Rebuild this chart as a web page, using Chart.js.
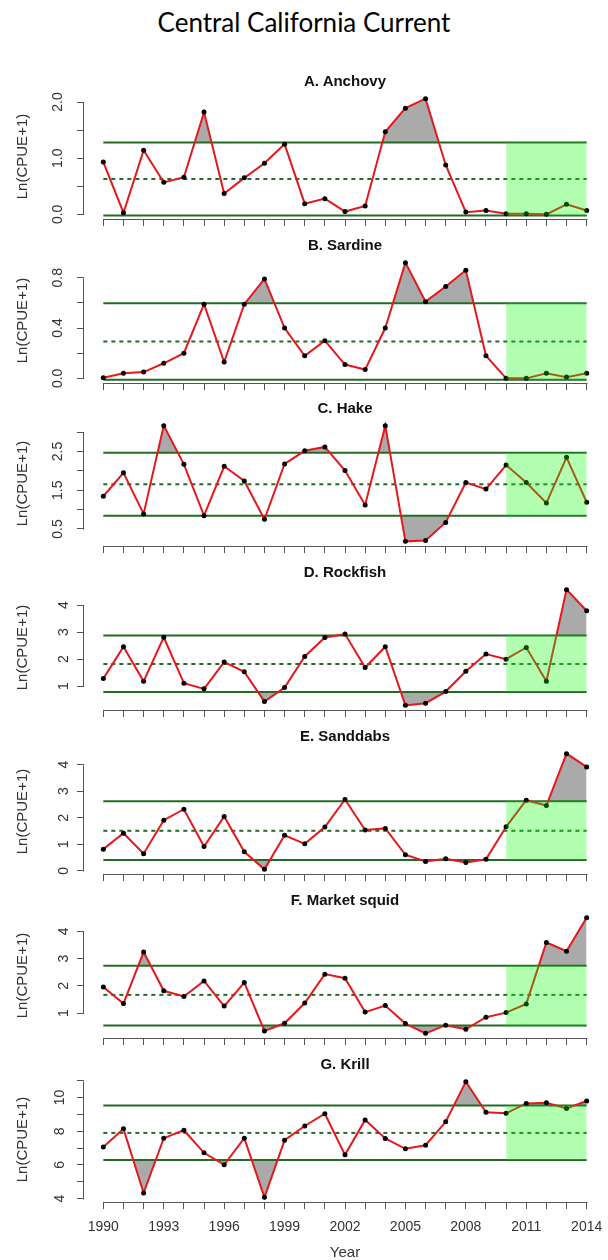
<!DOCTYPE html>
<html><head><meta charset="utf-8">
<script src="https://cdn.jsdelivr.net/npm/chart.js@4.4.1/dist/chart.umd.min.js"></script>
<style>
html,body{margin:0;padding:0;background:#fff;width:608px;height:1260px;overflow:hidden;position:relative;}
#main{position:absolute;left:0;top:4px;width:608px;text-align:center;font-family:Lato,'Open Sans',sans-serif;font-size:26px;line-height:36px;color:#000;}
.pt{position:absolute;left:84px;width:522px;text-align:center;font:bold 15px 'Liberation Sans',Arial,sans-serif;line-height:18px;color:#111;}
canvas{position:absolute;left:0;}
</style></head><body>
<div id="main">Central California Current</div>
<script>
// ---------- data ----------
const years = [1990,1991,1992,1993,1994,1995,1996,1997,1998,1999,2000,2001,2002,2003,2004,2005,2006,2007,2008,2009,2010,2011,2012,2013,2014];
const xTickLabels = ['1990','1993','1996','1999','2002','2005','2008','2011','2014'];
const shadeStart = 2010, shadeEnd = 2014;

const panelTitles = ['A. Anchovy','B. Sardine','C. Hake','D. Rockfish','E. Sanddabs','F. Market squid','G. Krill'];

const anchovy  = [0.93,0.03,1.14,0.57,0.66,1.82,0.37,0.65,0.91,1.25,0.19,0.28,0.05,0.15,1.47,1.89,2.06,0.88,0.04,0.07,0.01,0.01,0.00,0.18,0.07];
const sardine  = [0.005,0.04,0.05,0.12,0.20,0.59,0.13,0.59,0.79,0.40,0.18,0.30,0.11,0.07,0.40,0.92,0.61,0.73,0.86,0.18,0.00,0.00,0.04,0.01,0.04];
const hake     = [1.345,1.95,0.89,3.17,2.17,0.845,2.12,1.74,0.75,2.18,2.52,2.62,2.01,1.12,3.17,0.18,0.20,0.67,1.70,1.53,2.15,1.70,1.17,2.35,1.19];
const rockfish = [1.28,2.46,1.18,2.81,1.11,0.90,1.89,1.53,0.43,0.95,2.10,2.80,2.93,1.69,2.46,0.29,0.37,0.80,1.55,2.19,2.00,2.43,1.18,4.57,3.79];
const sanddabs = [0.82,1.42,0.65,1.91,2.32,0.92,2.05,0.72,0.06,1.34,1.02,1.65,2.69,1.54,1.60,0.61,0.36,0.46,0.32,0.44,1.66,2.66,2.46,4.41,3.91];
const squid    = [1.96,1.35,3.24,1.82,1.61,2.18,1.26,2.12,0.35,0.63,1.37,2.43,2.28,1.04,1.28,0.62,0.26,0.56,0.41,0.85,1.02,1.34,3.59,3.27,4.50];
const krill    = [7.06,8.14,4.34,7.59,8.06,6.72,6.01,7.59,4.08,7.47,8.31,9.04,6.60,8.67,7.57,6.96,7.17,8.56,10.94,9.12,9.06,9.65,9.69,9.35,9.79];

const meanLine  = [0.63, 0.293, 1.655, 1.82, 1.51, 1.67, 7.90];
const upperLine = [1.28, 0.597, 2.47, 2.87, 2.62, 2.74, 9.53];
const lowerLine = [-0.02, -0.01, 0.84, 0.78, 0.41, 0.55, 6.30];

const yTicksA = [0,0.5,1,1.5,2],       yLabelsA = ['0.0','','1.0','','2.0'];
const yTicksB = [0,0.2,0.4,0.6,0.8],   yLabelsB = ['0.0','','0.4','','0.8'];
const yTicksC = [0.5,1,1.5,2,2.5,3],   yLabelsC = ['0.5','','1.5','','2.5',''];
const yTicksD = [1,2,3,4],             yLabelsD = ['1','2','3','4'];
const yTicksE = [0,1,2,3,4],           yLabelsE = ['0','1','2','3','4'];
const yTicksF = [1,2,3,4],             yLabelsF = ['1','2','3','4'];
const yTicksG = [4,5,6,7,8,9,10,11],   yLabelsG = ['4','','6','','8','','10',''];

// ---------- styling ----------
const RED = '#e3191d', GREEN = '#236b23', GREY = '#aaaaaa', SHADE = 'rgba(0,255,0,0.30)';
const AXIS = '#555', TEXT = '#333', FONT = "'Liberation Sans', Arial, sans-serif";
const PLOT_H = 125, PAD_TOP = 20, GAP = 163.9, FIRST_TOP = 93.6, YAXIS_W = 84, CANVAS_W = 620;

const series = [anchovy, sardine, hake, rockfish, sanddabs, squid, krill];
const yTicks = [yTicksA, yTicksB, yTicksC, yTicksD, yTicksE, yTicksF, yTicksG];
const yLabels = [yLabelsA, yLabelsB, yLabelsC, yLabelsD, yLabelsE, yLabelsF, yLabelsG];

const axisLinePlugin = {
  id: 'axisLine',
  afterDraw(chart) {
    const ctx = chart.ctx, xs = chart.scales.x, ys = chart.scales.y;
    const xt = xs.ticks, yt = ys.ticks;
    ctx.save();
    ctx.strokeStyle = AXIS; ctx.lineWidth = 1;
    ctx.beginPath();
    const by = Math.round(xs.top) + 0.5;
    ctx.moveTo(Math.round(xs.getPixelForValue(xt[0].value)) + 0.5, by);
    ctx.lineTo(Math.round(xs.getPixelForValue(xt[xt.length - 1].value)) + 0.5, by);
    const lx = Math.round(ys.right) - 0.5;
    ctx.moveTo(lx, Math.round(ys.getPixelForValue(yt[0].value)) + 0.5);
    ctx.lineTo(lx, Math.round(ys.getPixelForValue(yt[yt.length - 1].value)) + 0.5);
    ctx.stroke();
    ctx.restore();
  }
};

series.forEach((vals, i) => {
  const last = i === series.length - 1;
  const plotTop = Math.round(FIRST_TOP + GAP * i);
  const xAxisH = last ? 60 : 10;
  const padBottom = last ? 0 : 10;
  const H = PAD_TOP + PLOT_H + xAxisH + padBottom;

  const cv = document.createElement('canvas');
  cv.width = CANVAS_W; cv.height = H;
  cv.style.width = CANVAS_W + 'px'; cv.style.height = H + 'px';
  cv.style.top = (plotTop - PAD_TOP) + 'px';
  document.body.appendChild(cv);

  const t = document.createElement('div');
  t.className = 'pt';
  t.textContent = panelTitles[i];
  t.style.top = (plotTop - 22) + 'px';
  document.body.appendChild(t);

  const vmin = Math.min(...vals), vmax = Math.max(...vals), d = vmax - vmin;
  const xr = years[years.length - 1] - years[0];
  const pts = years.map((yr, k) => ({x: yr, y: vals[k]}));
  const up = upperLine[i], lo = lowerLine[i], mn = meanLine[i];
  const x0 = years[0], x1 = years[years.length - 1];
  const clear = 'rgba(0,0,0,0)';

  new Chart(cv, {
    type: 'line',
    data: {
      datasets: [
        {data: pts, borderColor: clear, borderWidth: 0, pointRadius: 0,
         fill: {target: {value: up}, above: GREY, below: clear}, order: 3},
        {data: pts, borderColor: clear, borderWidth: 0, pointRadius: 0,
         fill: {target: {value: lo}, above: clear, below: GREY}, order: 3},
        {data: [{x: x0, y: up}, {x: x1, y: up}], borderColor: GREEN, borderWidth: 2, pointRadius: 0, fill: false, order: 2},
        {data: [{x: x0, y: lo}, {x: x1, y: lo}], borderColor: GREEN, borderWidth: 2, pointRadius: 0, fill: false, order: 2},
        {data: [{x: x0, y: mn}, {x: x1, y: mn}], borderColor: GREEN, borderWidth: 2, borderDash: [4, 4], pointRadius: 0, fill: false, order: 2},
        {data: pts, borderColor: RED, borderWidth: 2, pointRadius: 2.5, pointBackgroundColor: '#000',
         pointBorderWidth: 0, pointBorderColor: '#000', fill: false, order: 1},
        {data: [{x: shadeStart, y: up}, {x: shadeEnd, y: up}], borderColor: clear, borderWidth: 0, pointRadius: 0,
         fill: {target: {value: lo}, above: SHADE, below: SHADE}, order: 0}
      ]
    },
    options: {
      responsive: false, animation: false, devicePixelRatio: 1, events: [],
      layout: {padding: {top: PAD_TOP, bottom: padBottom, left: 0, right: CANVAS_W - 606}},
      plugins: {legend: {display: false}, tooltip: {enabled: false}, title: {display: false}},
      elements: {line: {tension: 0}},
      scales: {
        x: {
          type: 'linear', min: x0 - 0.04 * xr, max: x1 + 0.04 * xr,
          afterBuildTicks: s => { s.ticks = years.map(v => ({value: v})); },
          afterFit: s => { s.height = xAxisH; },
          grid: {display: true, drawOnChartArea: false, drawTicks: true, tickLength: 7, color: AXIS, lineWidth: 1},
          border: {display: false},
          ticks: {display: last, autoSkip: false, maxRotation: 0, minRotation: 0, padding: 10,
                  color: TEXT, font: {family: FONT, size: 14},
                  callback: v => xTickLabels.includes(String(v)) ? String(v) : ''},
          title: {display: last, text: 'Year', color: TEXT, font: {family: FONT, size: 15}, padding: {top: 0, bottom: 0}}
        },
        y: {
          type: 'linear', min: vmin - 0.04 * d, max: vmax + 0.04 * d,
          afterBuildTicks: s => { s.ticks = yTicks[i].map(v => ({value: v})); },
          afterFit: s => { s.width = YAXIS_W; },
          grid: {display: true, drawOnChartArea: false, drawTicks: true, tickLength: 7, color: AXIS, lineWidth: 1},
          border: {display: false},
          ticks: {autoSkip: false, minRotation: 90, maxRotation: 90, crossAlign: 'center', padding: 9,
                  color: TEXT, font: {family: FONT, size: 14},
                  callback: (v, idx) => yLabels[i][idx]},
          title: {display: true, text: 'Ln(CPUE+1)', color: TEXT, font: {family: FONT, size: 15}, padding: {top: 14, bottom: 0}}
        }
      }
    },
    plugins: [axisLinePlugin]
  });
});
</script>
</body></html>
